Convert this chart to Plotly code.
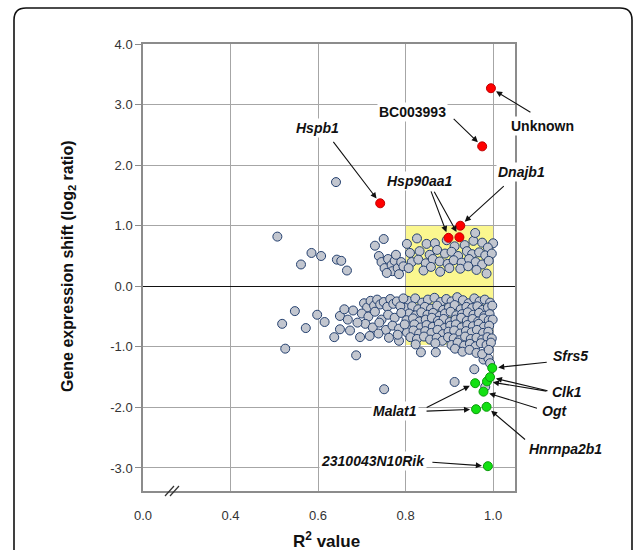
import plotly.graph_objects as go

# ---------------- data ----------------
# sparse grey points (R2, log2 ratio)
sparse_x = [0.507, 0.585, 0.607, 0.561, 0.643, 0.653, 0.666, 0.641, 0.547, 0.518, 0.572, 0.598, 0.615, 0.525]
sparse_y = [0.82, 0.55, 0.50, 0.36, 0.44, 0.42, 0.26, 1.72, -0.41, -0.62, -0.69, -0.47, -0.59, -1.03]

# upper band grey points
upper_x = [0.730, 0.750, 0.739, 0.745, 0.752, 0.760, 0.768, 0.775, 0.770, 0.782, 0.790, 0.785, 0.795, 0.757, 0.778,
           0.803, 0.826, 0.848, 0.867, 0.894, 0.955, 0.959, 1.000, 0.912, 0.935, 0.975, 0.988,
           0.810, 0.832, 0.855, 0.872, 0.890, 0.905, 0.920, 0.940, 0.952, 0.968, 0.982, 0.997,
           0.814, 0.829, 0.846, 0.862, 0.878, 0.896, 0.910, 0.928, 0.945, 0.960, 0.975, 0.990,
           0.807, 0.841, 0.858, 0.879, 0.900, 0.925, 0.943, 0.962, 0.985]
upper_y = [0.67, 0.78, 0.50, 0.40, 0.30, 0.45, 0.35, 0.42, 0.25, 0.30, 0.40, 0.20, 0.33, 0.22, 0.52,
           0.70, 0.79, 0.70, 0.71, 0.76, 0.75, 0.88, 0.71, 0.66, 0.68, 0.72, 0.64,
           0.55, 0.58, 0.52, 0.60, 0.54, 0.57, 0.50, 0.58, 0.53, 0.56, 0.51, 0.54,
           0.40, 0.44, 0.38, 0.45, 0.41, 0.37, 0.43, 0.39, 0.45, 0.40, 0.36, 0.42,
           0.30, 0.26, 0.32, 0.24, 0.30, 0.29, 0.33, 0.27, 0.21]

# dense lower band grey points (inside the highlighted box)
lower_x = [0.805, 0.822, 0.838, 0.851, 0.866, 0.880, 0.893, 0.905, 0.918, 0.931, 0.944, 0.957, 0.969, 0.981, 0.993,
           0.800, 0.815, 0.829, 0.844, 0.858, 0.872, 0.886, 0.899, 0.912, 0.926, 0.939, 0.952, 0.964, 0.976, 0.988, 0.998,
           0.808, 0.823, 0.836, 0.850, 0.863, 0.878, 0.890, 0.903, 0.916, 0.929, 0.942, 0.955, 0.968, 0.980, 0.992,
           0.802, 0.817, 0.832, 0.846, 0.860, 0.874, 0.887, 0.901, 0.914, 0.927, 0.940, 0.953, 0.966, 0.978, 0.990, 0.999,
           0.806, 0.820, 0.835, 0.848, 0.862, 0.876, 0.889, 0.902, 0.915, 0.928, 0.941, 0.954, 0.967, 0.979, 0.991,
           0.803, 0.818, 0.831, 0.845, 0.859, 0.873, 0.885, 0.898, 0.911, 0.925, 0.938, 0.951, 0.963, 0.977, 0.989,
           0.811, 0.826, 0.842, 0.856, 0.871, 0.884, 0.897, 0.910, 0.923, 0.936, 0.949, 0.962, 0.975, 0.987, 0.997,
           0.823, 0.868, 0.905, 0.919, 0.934, 0.947, 0.960, 0.972, 0.985, 0.995]
lower_y = [-0.24, -0.20, -0.27, -0.22, -0.19, -0.26, -0.21, -0.25, -0.18, -0.23, -0.28, -0.20, -0.25, -0.22, -0.27,
           -0.36, -0.33, -0.38, -0.34, -0.37, -0.32, -0.39, -0.35, -0.31, -0.38, -0.34, -0.36, -0.33, -0.39, -0.35, -0.32,
           -0.45, -0.48, -0.43, -0.47, -0.44, -0.49, -0.45, -0.42, -0.48, -0.46, -0.43, -0.47, -0.44, -0.49, -0.46,
           -0.56, -0.53, -0.58, -0.55, -0.52, -0.57, -0.54, -0.59, -0.55, -0.52, -0.57, -0.54, -0.58, -0.53, -0.56, -0.55,
           -0.66, -0.63, -0.68, -0.64, -0.67, -0.62, -0.69, -0.65, -0.63, -0.68, -0.64, -0.66, -0.62, -0.67, -0.65,
           -0.76, -0.73, -0.78, -0.74, -0.77, -0.72, -0.79, -0.75, -0.73, -0.78, -0.74, -0.76, -0.72, -0.77, -0.75,
           -0.84, -0.87, -0.83, -0.88, -0.85, -0.90, -0.84, -0.86, -0.89, -0.83, -0.87, -0.85, -0.88, -0.84, -0.86,
           -0.96, -0.94, -0.97, -0.93, -0.98, -0.95, -0.99, -0.94, -0.97, -0.93]

# grey points below the box
below_x = [0.835, 0.869, 0.913, 0.930, 0.946, 0.962, 0.957, 0.978, 0.989, 0.993, 0.982, 0.912, 0.751, 0.785, 0.975, 0.990]
below_y = [-1.09, -1.09, -1.03, -1.08, -1.05, -1.10, -1.37, -1.21, -1.19, -1.27, -1.66, -1.58, -1.70, -0.90, -1.12, -1.05]

# grey points lower-left of the box
left_x = [0.650, 0.650, 0.637, 0.673, 0.687, 0.696,
          0.705, 0.712, 0.720, 0.728, 0.735, 0.742, 0.750, 0.758, 0.765, 0.772, 0.780, 0.788, 0.795,
          0.700, 0.715, 0.730, 0.745, 0.760, 0.775, 0.790,
          0.708, 0.725, 0.740, 0.755, 0.770, 0.785, 0.798,
          0.718, 0.738, 0.762, 0.782,
          0.690, 0.668, 0.680, 0.660]
left_y = [-0.49, -0.71, -0.84, -0.73, -1.14, -0.84,
          -0.28, -0.35, -0.24, -0.32, -0.22, -0.30, -0.26, -0.34, -0.21, -0.29, -0.25, -0.33, -0.20,
          -0.45, -0.50, -0.42, -0.55, -0.47, -0.52, -0.44,
          -0.62, -0.68, -0.60, -0.72, -0.65, -0.70, -0.63,
          -0.82, -0.78, -0.85, -0.80,
          -0.60, -0.55, -0.40, -0.38]

# highlighted genes
red_genes = ["Unknown", "BC003993", "Hspb1", "Dnajb1", "Hsp90aa1", "Hsp90aa1"]
red_x = [0.995, 0.975, 0.742, 0.925, 0.898, 0.923]
red_y = [3.27, 2.31, 1.37, 1.00, 0.80, 0.81]

green_genes = ["Sfrs5", "Malat1", "Clk1", "Clk1", "Ogt", "Malat1", "Hnrnpa2b1", "2310043N10Rik"]
green_x = [0.998, 0.959, 0.986, 0.993, 0.978, 0.961, 0.985, 0.988]
green_y = [-1.35, -1.60, -1.57, -1.50, -1.74, -2.03, -1.99, -2.97]

x_tickvals = [0.2, 0.4, 0.6, 0.8, 1.0]
x_ticktext = ["0.0", "0.4", "0.6", "0.8", "1.0"]
y_tickvals = [-3, -2, -1, 0, 1, 2, 3, 4]
y_ticktext = ["-3.0", "-2.0", "-1.0", "0.0", "1.0", "2.0", "3.0", "4.0"]

# ---------------- layout helpers ----------------
W, H = 635, 550
L, R, T, B = 143, 120, 44, 59
PW, PH = W - L - R, H - T - B


def pxx(xp):
    return (xp - L) / PW


def pxy(yp):
    return (H - B - yp) / PH


FONT = "Liberation Sans, Arial, sans-serif"

grey_x = sparse_x + upper_x + lower_x + below_x + left_x
grey_y = sparse_y + upper_y + lower_y + below_y + left_y

fig = go.Figure()
fig.add_trace(go.Scatter(x=grey_x, y=grey_y, mode="markers",
                         marker=dict(size=9, color="#c2c6cf", line=dict(color="#24406f", width=1)),
                         hoverinfo="skip", cliponaxis=False))
fig.add_trace(go.Scatter(x=red_x, y=red_y, mode="markers",
                         marker=dict(size=9, color="#ff0000", line=dict(color="#c00000", width=1)),
                         hoverinfo="skip"))
fig.add_trace(go.Scatter(x=green_x, y=green_y, mode="markers",
                         marker=dict(size=9, color="#12e012", line=dict(color="#0a9a0a", width=1)),
                         hoverinfo="skip"))

# arrow tails (pixel offsets from each highlighted point)
red_tail = [(41, 25), (-30, -29), (-48, -63), (45, -41), (-18, -48), (-26, -47)]
green_tail = [(56, -6), (-50, 25), (61, 10), (59, 14), (55, 17), (-51, 2), (40, 34), (-57, -4)]

annotations = []
for xs, ys, tails in [(red_x, red_y, red_tail), (green_x, green_y, green_tail)]:
    for x, y, (dx, dy) in zip(xs, ys, tails):
        annotations.append(dict(x=x, y=y, xref="x", yref="y", text="", showarrow=True,
                                ax=dx, ay=dy, arrowhead=2, arrowsize=1.1, arrowwidth=1.1,
                                arrowcolor="#111111", standoff=6))

labels = [("Unknown", 542, 126, False), ("BC003993", 412, 112, False), ("Hspb1", 317, 128, True),
          ("Hsp90aa1", 420, 181, True), ("Dnajb1", 521, 172, True), ("Sfrs5", 570, 356, True),
          ("Clk1", 567, 392, True), ("Ogt", 554, 411, True), ("Malat1", 395, 411, True),
          ("Hnrnpa2b1", 565, 449, True), ("2310043N10Rik", 373, 461, True)]
for txt, lx, ly, it in labels:
    t = f"<b><i>{txt}</i></b>" if it else f"<b>{txt}</b>"
    annotations.append(dict(x=pxx(lx), y=pxy(ly), xref="paper", yref="paper", text=t,
                            xanchor="center", yanchor="middle",
                            showarrow=False, font=dict(family=FONT, size=14, color="#111111"),
                            bgcolor="white", borderpad=1))

# axis titles
annotations.append(dict(x=pxx(68), y=pxy(266), xref="paper", yref="paper",
                        xanchor="center", yanchor="middle",
                        text="<b>Gene expression shift (log<sub>2</sub> ratio)</b>", textangle=-90,
                        showarrow=False, font=dict(family=FONT, size=16, color="#111111")))
annotations.append(dict(x=pxx(326), y=pxy(540), xref="paper", yref="paper",
                        xanchor="center", yanchor="middle",
                        text="<b>R<sup>2</sup> value</b>",
                        showarrow=False, font=dict(family=FONT, size=17, color="#111111")))

# rounded outer frame
fx0, fx1 = pxx(14), pxx(632)
fy0, fy1 = pxy(570), pxy(8)
rx, ry = 12 / PW, 12 / PH
frame_path = (f"M {fx0},{fy0} L {fx0},{fy1 - ry} Q {fx0},{fy1} {fx0 + rx},{fy1} "
              f"L {fx1 - rx},{fy1} Q {fx1},{fy1} {fx1},{fy1 - ry} L {fx1},{fy0}")

shapes = [
    dict(type="rect", xref="x", yref="y", x0=0.8, x1=1.0, y0=-0.97, y1=1.0,
         fillcolor="#fbf78f", line=dict(width=0), layer="below"),
    dict(type="path", xref="paper", yref="paper", path=frame_path,
         line=dict(color="#111111", width=1.6)),
    # axis break marks
    dict(type="line", xref="paper", yref="paper", x0=pxx(165), y0=pxy(496), x1=pxx(174), y1=pxy(486),
         line=dict(color="#333333", width=1.2)),
    dict(type="line", xref="paper", yref="paper", x0=pxx(170), y0=pxy(496), x1=pxx(179), y1=pxy(486),
         line=dict(color="#333333", width=1.2)),
]

fig.update_layout(
    width=W, height=H, margin=dict(l=L, r=R, t=T, b=B),
    paper_bgcolor="white", plot_bgcolor="white", showlegend=False,
    annotations=annotations, shapes=shapes,
    font=dict(family=FONT, size=13, color="#333333"),
)
fig.update_xaxes(range=[0.2, 1.05], tickvals=x_tickvals, ticktext=x_ticktext,
                 showgrid=True, gridcolor="#a6a6a6", gridwidth=1, zeroline=False,
                 showline=True, linecolor="#8c8c8c", linewidth=1.5, mirror=True,
                 ticks="outside", ticklen=12, tickcolor="rgba(0,0,0,0)",
                 tickfont=dict(family=FONT, size=13, color="#333333"))
fig.update_yaxes(range=[-3.38, 4.0], tickvals=y_tickvals, ticktext=y_ticktext,
                 showgrid=True, gridcolor="#a6a6a6", gridwidth=1,
                 zeroline=True, zerolinecolor="#111111", zerolinewidth=1.3,
                 showline=True, linecolor="#8c8c8c", linewidth=1.5, mirror=True,
                 ticks="outside", ticklen=6, tickcolor="#8c8c8c",
                 tickfont=dict(family=FONT, size=13, color="#333333"))

fig.write_html("out.html", config={"displayModeBar": False},
               post_script="document.body.style.margin='0';document.body.style.padding='0';")
